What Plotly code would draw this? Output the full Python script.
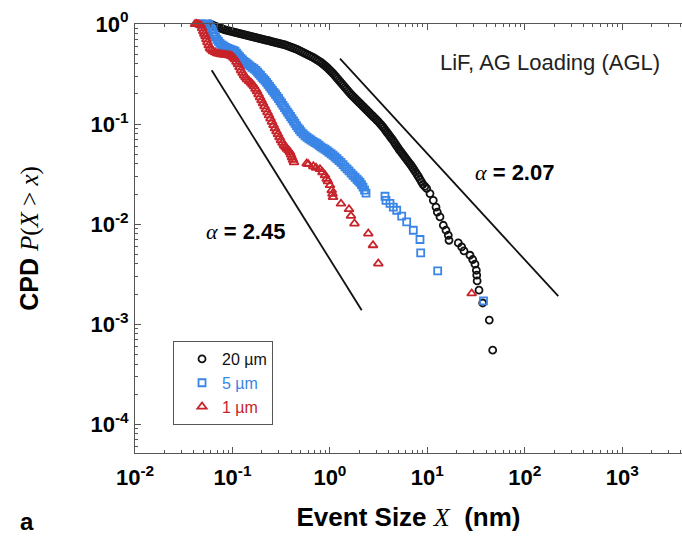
import plotly.graph_objects as go

# Complementary cumulative distribution of event sizes, LiF pillars under AG loading
# 20 um pillars
x20 = [0.0588, 0.0610, 0.0632, 0.0662, 0.0694, 0.0728, 0.0763, 0.0800, 0.0839, 0.0880,
       0.0922, 0.0966, 0.1013, 0.1062, 0.1113, 0.1167, 0.1224, 0.1283, 0.1345, 0.1410,
       0.1478, 0.1550, 0.1625, 0.1704, 0.1786, 0.1872, 0.1963, 0.2058, 0.2157, 0.2261,
       0.2371, 0.2486, 0.2606, 0.2732, 0.2864, 0.3002, 0.3147, 0.3300, 0.3460, 0.3628,
       0.3803, 0.3987, 0.4180, 0.4382, 0.4594, 0.4816, 0.5049, 0.5294, 0.5550, 0.5818,
       0.6100, 0.6395, 0.6705, 0.7030, 0.7370, 0.7727, 0.8101, 0.8393, 0.8695, 0.9009,
       0.9333, 0.9670, 1.002, 1.038, 1.076, 1.115, 1.155, 1.196, 1.239, 1.284,
       1.330, 1.378, 1.428, 1.479, 1.532, 1.588, 1.645, 1.704, 1.766, 1.830,
       1.896, 1.964, 2.035, 2.109, 2.185, 2.264, 2.346, 2.430, 2.517, 2.608,
       2.702, 2.799, 2.900, 3.005, 3.113, 3.226, 3.343, 3.463, 3.588, 3.717,
       3.851, 3.990, 4.133, 4.283, 4.438, 4.598, 4.764, 4.935, 5.113, 5.298,
       5.490, 5.687, 5.892, 6.105, 6.325, 6.553, 6.790, 7.035, 7.289, 7.551,
       7.823, 8.106, 8.399, 8.702, 9.016, 9.42, 9.84, 10.64, 11.50, 12.26,
       12.64, 13.47, 14.57, 15.52, 16.39, 16.67, 20.76, 22.50, 23.76, 27.37,
       29.17, 30.80, 31.8, 32.1, 32.4, 33.86, 36.94, 43.18, 46.79]
y20 = [1.0, 0.985, 0.970, 0.954, 0.938, 0.922, 0.906, 0.890, 0.875, 0.865,
       0.855, 0.845, 0.836, 0.826, 0.817, 0.807, 0.798, 0.789, 0.780, 0.771,
       0.762, 0.753, 0.745, 0.736, 0.728, 0.719, 0.711, 0.703, 0.695, 0.687,
       0.680, 0.672, 0.664, 0.656, 0.649, 0.641, 0.634, 0.627, 0.620, 0.609,
       0.5986, 0.588, 0.5783, 0.568, 0.5588, 0.546, 0.5337, 0.5215, 0.5097, 0.498,
       0.4867, 0.4755, 0.4648, 0.4515, 0.4388, 0.4264, 0.4144, 0.4026, 0.3912, 0.3800,
       0.3693, 0.3567, 0.3446, 0.3329, 0.3216, 0.3090, 0.2969, 0.2851, 0.2738, 0.2630,
       0.2527, 0.2427, 0.2331, 0.2239, 0.2151, 0.2066, 0.1984, 0.1917, 0.1852, 0.1789,
       0.1728, 0.1670, 0.1614, 0.1559, 0.1506, 0.1455, 0.1405, 0.1358, 0.1312, 0.1267,
       0.1224, 0.1183, 0.1143, 0.1104, 0.1067, 0.1025, 0.0985, 0.0946, 0.0908, 0.0867,
       0.0828, 0.0791, 0.0755, 0.0721, 0.0689, 0.0654, 0.0621, 0.0590, 0.0560, 0.0535,
       0.0511, 0.0488, 0.0466, 0.0445, 0.0425, 0.0406, 0.0388, 0.0369, 0.0350, 0.0332,
       0.0315, 0.0298, 0.0281, 0.0265, 0.0250, 0.0238, 0.0227, 0.0202, 0.0173, 0.0148,
       0.0132, 0.0118, 0.00975, 0.00869, 0.00774, 0.00690, 0.00649, 0.00592, 0.00540, 0.00489,
       0.00443, 0.00398, 0.00346, 0.00309, 0.00271, 0.00219, 0.00163, 0.00110, 0.00055]

# 5 um pillars
x5 = [0.0476, 0.0499, 0.0523, 0.0548, 0.0575, 0.0596, 0.0617, 0.0631, 0.0646, 0.0670,
      0.0694, 0.0719, 0.0745, 0.0781, 0.0819, 0.0859, 0.0900, 0.0944, 0.0989, 0.1025,
      0.1062, 0.1100, 0.1140, 0.1182, 0.1224, 0.1269, 0.1314, 0.1378, 0.1443, 0.1515,
      0.1587, 0.1665, 0.1744, 0.1808, 0.1872, 0.1940, 0.2010, 0.2083, 0.2157, 0.2236,
      0.2315, 0.2400, 0.2485, 0.2576, 0.2668, 0.2766, 0.2864, 0.2969, 0.3074, 0.3187,
      0.3300, 0.3421, 0.3542, 0.3673, 0.3803, 0.3943, 0.4082, 0.4232, 0.4382, 0.4543,
      0.4704, 0.4877, 0.5049, 0.5300, 0.5550, 0.5825, 0.6100, 0.6403, 0.6705, 0.7038,
      0.7370, 0.7736, 0.8101, 0.8502, 0.8902, 0.9343, 0.9783, 1.027, 1.076, 1.129,
      1.182, 1.240, 1.299, 1.364, 1.428, 1.499, 1.570, 1.648, 1.725, 1.810,
      1.896, 1.966, 2.035, 2.110, 2.185, 2.266, 2.346, 3.673, 3.761, 4.133,
      4.470, 4.843, 5.452, 6.135, 7.172, 8.399, 8.540, 12.76, 37.65]
y5 = [1.0, 0.998, 0.996, 0.994, 0.992, 0.937, 0.885, 0.836, 0.789, 0.745,
      0.703, 0.671, 0.641, 0.620, 0.599, 0.585, 0.572, 0.562, 0.552, 0.543,
      0.534, 0.512, 0.492, 0.473, 0.454, 0.439, 0.424, 0.410, 0.396, 0.382,
      0.369, 0.357, 0.3446, 0.331, 0.318, 0.306, 0.2935, 0.2835, 0.2738, 0.2615,
      0.2497, 0.2385, 0.2278, 0.2176, 0.2078, 0.1985, 0.1895, 0.1800, 0.1709, 0.1623,
      0.1541, 0.1463, 0.1389, 0.1319, 0.1253, 0.1190, 0.1130, 0.1073, 0.1019, 0.0967,
      0.0918, 0.0877, 0.0838, 0.0800, 0.0764, 0.0738, 0.0713, 0.0693, 0.0673, 0.0654,
      0.0636, 0.0614, 0.0593, 0.0576, 0.0560, 0.0541, 0.0523, 0.0505, 0.0488, 0.0469,
      0.0450, 0.0432, 0.0415, 0.0394, 0.0374, 0.0357, 0.0341, 0.0324, 0.0308, 0.0294,
      0.0281, 0.0271, 0.0262, 0.0248, 0.0234, 0.0219, 0.0204, 0.0190, 0.0173, 0.0161,
      0.0148, 0.01377, 0.0120, 0.01052, 0.00869, 0.00702, 0.00516, 0.00341, 0.00171]

# 1 um pillars
x1 = [0.0413, 0.0428, 0.0443, 0.0459, 0.0476, 0.0489, 0.0502, 0.0515, 0.0529, 0.0541,
      0.0554, 0.0571, 0.0588, 0.0610, 0.0632, 0.0663, 0.0694, 0.0728, 0.0763, 0.0800,
      0.0839, 0.0880, 0.0922, 0.0955, 0.0989, 0.1025, 0.1062, 0.1100, 0.1140, 0.1182,
      0.1224, 0.1269, 0.1314, 0.1362, 0.1410, 0.1478, 0.1549, 0.1606, 0.1663, 0.1724,
      0.1786, 0.1851, 0.1917, 0.1987, 0.2058, 0.2133, 0.2209, 0.2290, 0.2371, 0.2458,
      0.2545, 0.2638, 0.2732, 0.2832, 0.2933, 0.3040, 0.3147, 0.3263, 0.3379, 0.3503,
      0.3627, 0.3760, 0.3894, 0.3988, 0.4082, 0.4180, 0.4279, 0.5778, 0.6002, 0.6753,
      0.7201, 0.7910, 0.8394, 0.8902, 0.9268, 0.9556, 1.002, 1.043, 1.063, 1.076,
      1.299, 1.570, 1.645, 1.787, 2.476, 2.767, 3.136, 28.49]
y1 = [1.0, 0.998, 0.996, 0.983, 0.970, 0.906, 0.846, 0.799, 0.754, 0.703,
      0.656, 0.613, 0.572, 0.553, 0.534, 0.522, 0.510, 0.504, 0.498, 0.495,
      0.492, 0.489, 0.4867, 0.481, 0.4756, 0.459, 0.444, 0.419, 0.396, 0.369,
      0.3446, 0.325, 0.3071, 0.293, 0.2802, 0.269, 0.2586, 0.248, 0.2385, 0.225,
      0.2127, 0.198, 0.1852, 0.173, 0.1614, 0.1506, 0.1405, 0.1311, 0.1224, 0.1136,
      0.1054, 0.0978, 0.0908, 0.0847, 0.0791, 0.0738, 0.0689, 0.0650, 0.0614, 0.0590,
      0.0567, 0.0545, 0.0523, 0.0494, 0.0466, 0.0440, 0.0415, 0.0403, 0.0397, 0.0379,
      0.0366, 0.0354, 0.0330, 0.0308, 0.0284, 0.0268, 0.0245, 0.0218, 0.0201, 0.0186,
      0.0160, 0.0141, 0.0121, 0.01014, 0.00805, 0.00615, 0.00404, 0.00203]

# Power-law guide lines (end points)
guide_245_x = [0.0612, 2.119]
guide_245_y = [0.3446, 0.00138]
guide_207_x = [1.269, 220.4]
guide_207_y = [0.451, 0.001904]

x_tick_vals = [1e-2, 1e-1, 1, 10, 100, 1000]
x_tick_text = ["10<sup>-2</sup>", "10<sup>-1</sup>", "10<sup>0</sup>",
               "10<sup>1</sup>", "10<sup>2</sup>", "10<sup>3</sup>"]
y_tick_vals = [1e-4, 1e-3, 1e-2, 1e-1, 1]
y_tick_text = ["10<sup>-4</sup>", "10<sup>-3</sup>", "10<sup>-2</sup>",
               "10<sup>-1</sup>", "10<sup>0</sup>"]

BLACK = "#111111"
BLUE = "#3a85e6"
RED = "#c8232a"
AXIS = "#555555"
SANS = "Liberation Sans"

fig = go.Figure()

for gx, gy in ((guide_245_x, guide_245_y), (guide_207_x, guide_207_y)):
    fig.add_trace(go.Scatter(x=gx, y=gy, mode="lines", showlegend=False,
                             line=dict(color="#111111", width=1.8), hoverinfo="skip"))

series = [
    (x20, y20, "20 µm", BLACK, "circle-open", 7),
    (x5, y5, "5 µm", BLUE, "square-open", 7),
    (x1, y1, "1 µm", RED, "triangle-up-open", 8),
]
for xs, ys, label, color, symbol, size in series:
    fig.add_trace(go.Scatter(
        x=xs, y=ys, mode="markers", cliponaxis=False,
        name=f"<span style='color:{color}'>{label}</span>",
        marker=dict(symbol=symbol, size=size, color=color, line=dict(width=1.8, color=color)),
    ))

axis_common = dict(
    type="log", showline=True, linecolor=AXIS, linewidth=1,
    ticks="inside", ticklen=6, tickwidth=1, tickcolor=AXIS,
    showgrid=False, zeroline=False, tickmode="array",
    tickfont=dict(family=SANS, size=22, color="#000", weight="bold"),
    minor=dict(ticks="inside", ticklen=3, tickwidth=1, tickcolor=AXIS, dtick="D1", showgrid=False),
)

fig.update_xaxes(
    **axis_common, range=[-2, 3.6126], mirror="ticks",
    tickvals=x_tick_vals, ticktext=x_tick_text, ticklabelstandoff=5,
    title=dict(
        text="<b>Event Size </b><span style='font-family:Liberation Serif'><i>X</i></span><b>\u00a0\u00a0(nm)</b>",
        font=dict(family=SANS, size=26, color="#000"), standoff=18),
)
fig.update_yaxes(
    **axis_common, range=[-4.287, 0], mirror=False,
    tickvals=y_tick_vals, ticktext=y_tick_text, ticklabelstandoff=1,
    title=dict(
        text="<b>CPD </b><span style='font-family:Liberation Serif'><i>P</i>(<i>X</i> &gt; <i>x</i>)</span>",
        font=dict(family=SANS, size=25, color="#000"), standoff=44),
)

fig.update_layout(
    width=682, height=537,
    margin=dict(l=135, r=0, t=24, b=84, autoexpand=False),
    paper_bgcolor="white", plot_bgcolor="white",
    font=dict(family=SANS, color="#000"),
    showlegend=True,
    legend=dict(x=0.0695, y=0.261, xanchor="left", yanchor="top",
                bordercolor="#555555", borderwidth=1, bgcolor="white",
                font=dict(family=SANS, size=16), indentation=8),
    annotations=[
        dict(text="LiF, AG Loading (AGL)", xref="paper", yref="paper",
             x=0.7587, y=0.9114, xanchor="center", yanchor="middle", showarrow=False,
             font=dict(family=SANS, size=22, color="#222")),
        dict(text="<span style='font-family:Liberation Serif'><i>α</i></span><b> = 2.07</b>",
             xref="paper", yref="paper", x=0.6929, y=0.655, xanchor="center", yanchor="middle",
             showarrow=False, font=dict(family=SANS, size=22, color="#000")),
        dict(text="<span style='font-family:Liberation Serif'><i>α</i></span><b> = 2.45</b>",
             xref="paper", yref="paper", x=0.2029, y=0.5152, xanchor="center", yanchor="middle",
             showarrow=False, font=dict(family=SANS, size=22, color="#000")),
        dict(text="<b>a</b>", xref="paper", yref="paper", x=-0.1974, y=-0.1592,
             xanchor="center", yanchor="middle",
             showarrow=False, font=dict(family=SANS, size=24, color="#000")),
    ],
)

fig.write_html("out.html")
